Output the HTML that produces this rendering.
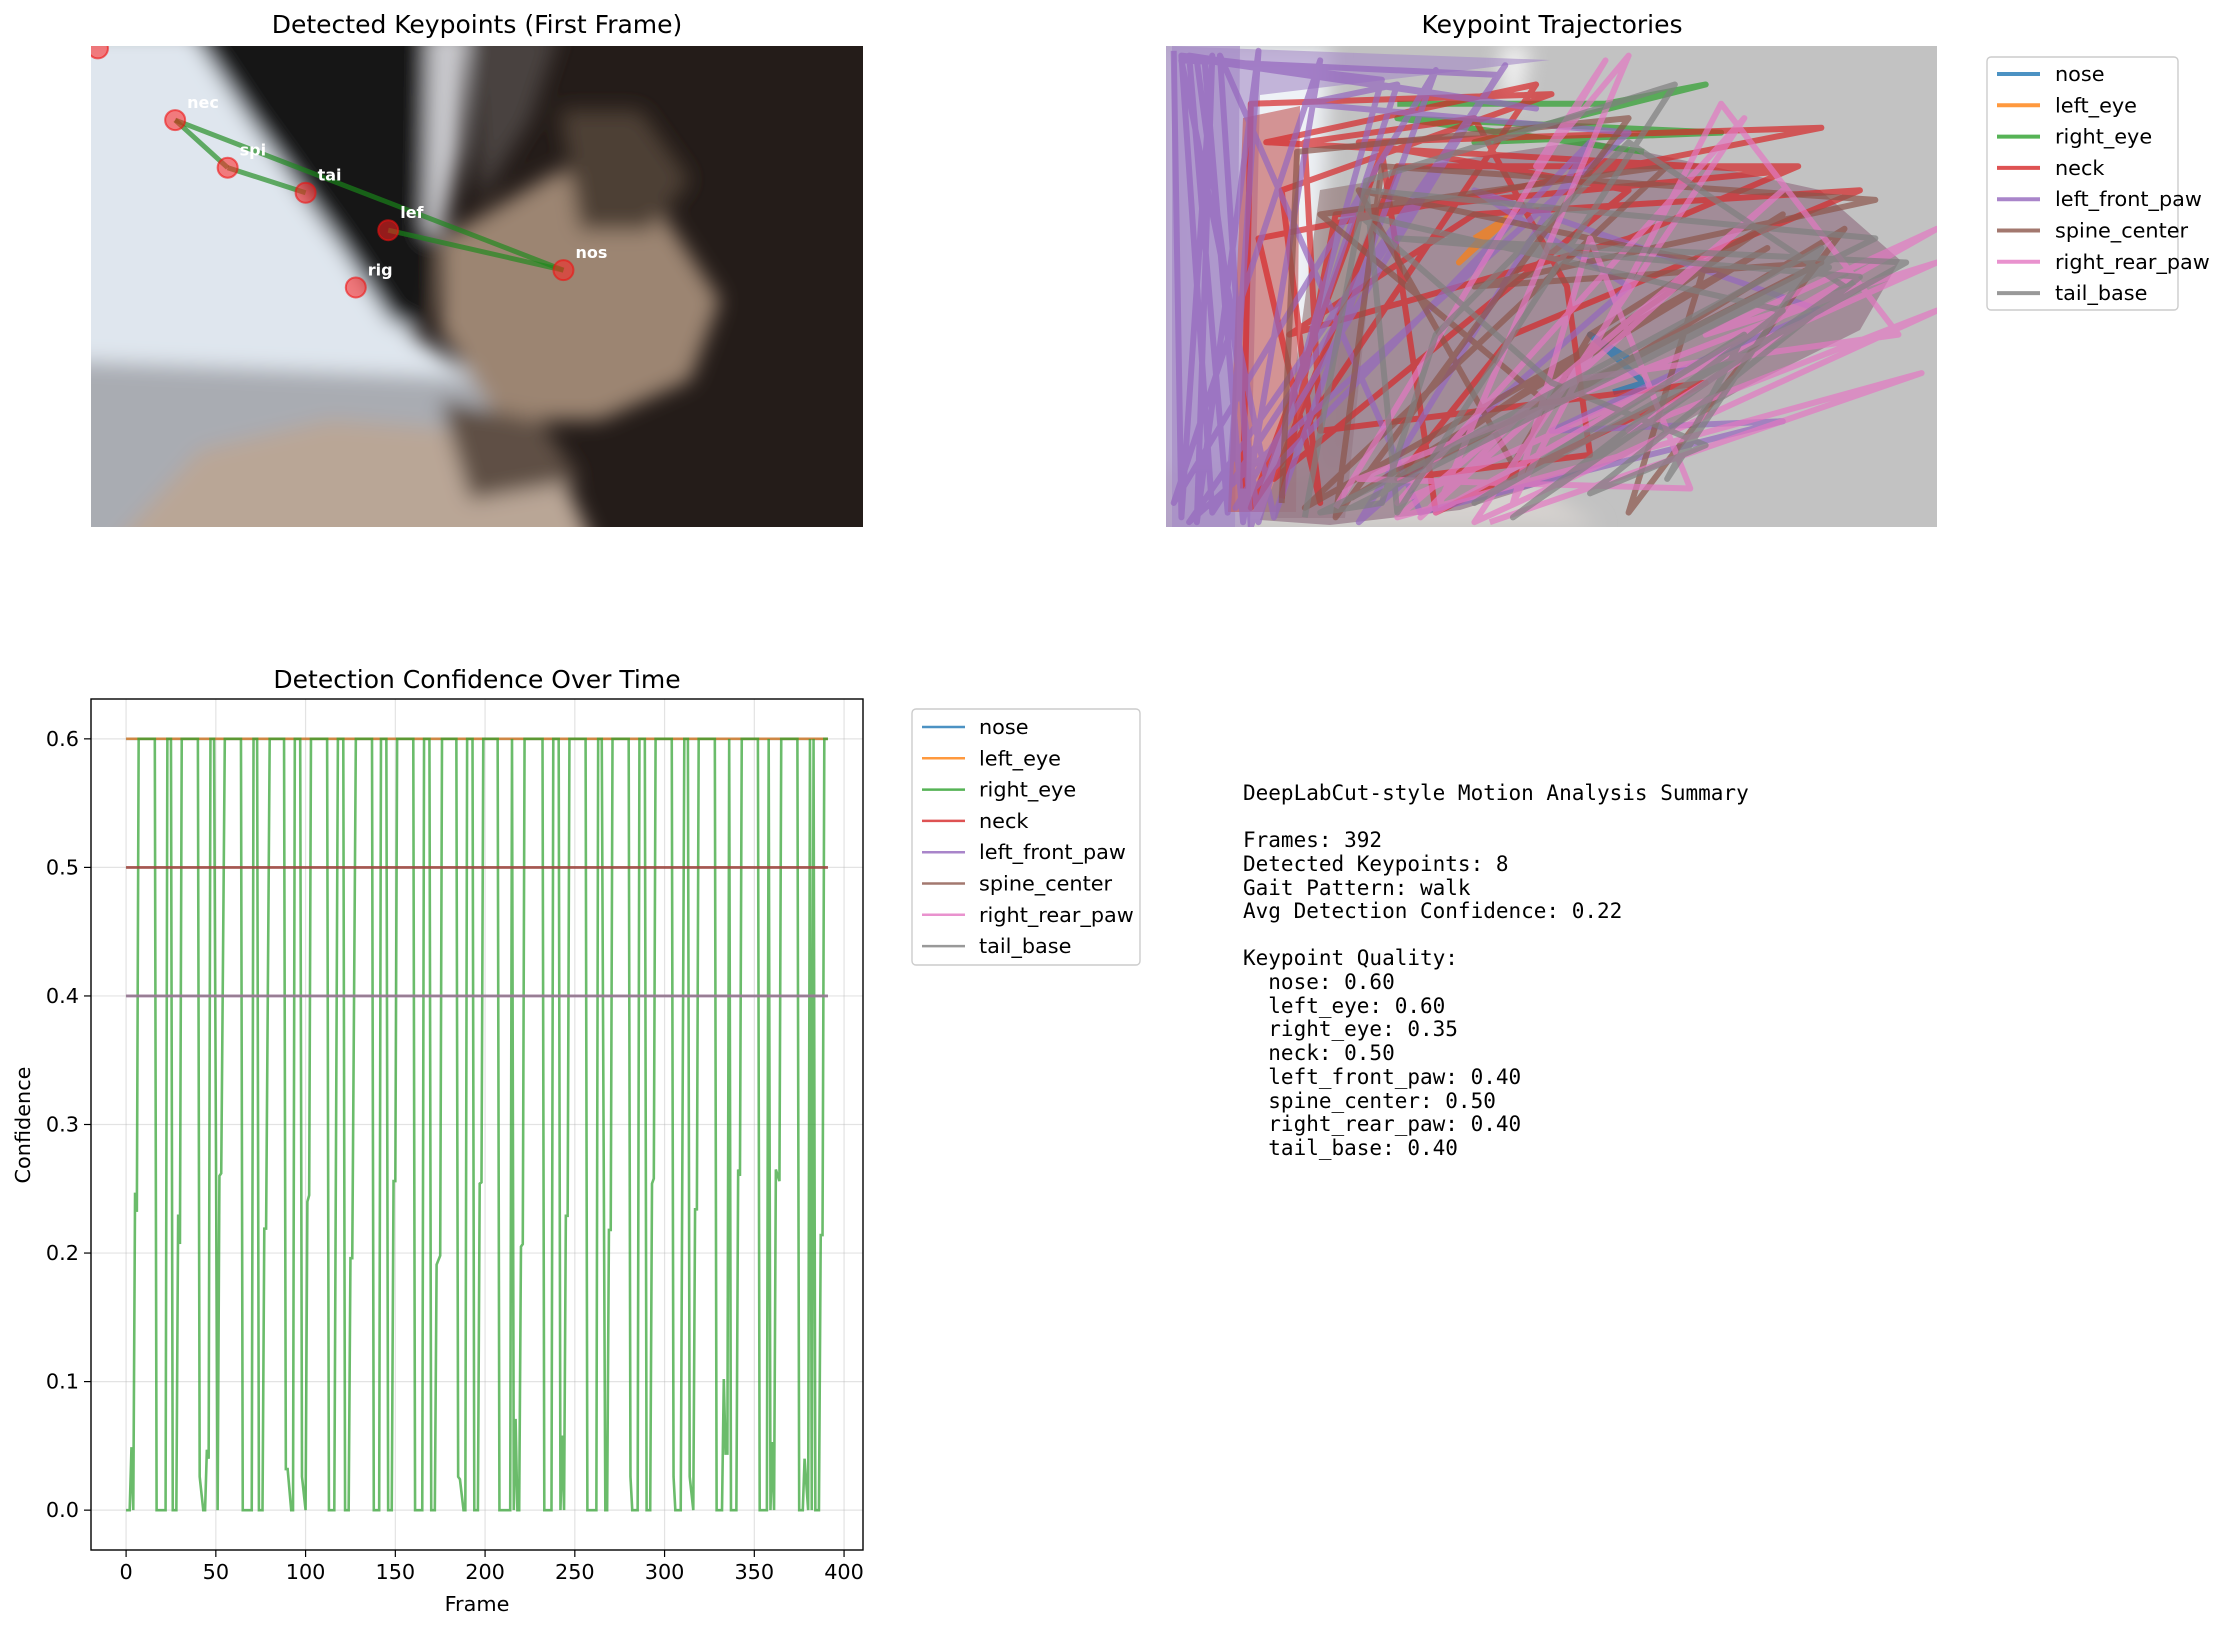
<!DOCTYPE html>
<html><head><meta charset="utf-8"><style>
body{margin:0;background:#fff}
svg{display:block;font-family:"DejaVu Sans","Liberation Sans",sans-serif}
.mono{font-family:"DejaVu Sans Mono","Liberation Mono",monospace}
</style></head><body>
<svg id="fig" width="2232" height="1629" viewBox="0 0 2232 1629" xmlns="http://www.w3.org/2000/svg">
<defs>
<filter id="blur8"><feGaussianBlur stdDeviation="10"/></filter>
<clipPath id="clipA"><rect x="91" y="46" width="772" height="481"/></clipPath>
<clipPath id="clipB"><rect x="1166" y="46" width="771" height="481"/></clipPath>
<clipPath id="clipC"><rect x="91" y="699" width="772" height="851"/></clipPath>
</defs>

<g>
<text x="477" y="33" font-size="25" text-anchor="middle">Detected Keypoints (First Frame)</text>
<g clip-path="url(#clipA)">
<rect x="91" y="46" width="772" height="481" fill="#241c19"/>
<g filter="url(#blur8)">
<polygon points="60,30 190,30 300,190 380,300 420,340 480,380 480,430 60,430" fill="#dfe6ee"/>
<polygon points="60,360 520,380 520,560 60,560" fill="#a9acb2"/>
<polygon points="190,30 430,30 440,200 430,300 415,330 390,320 330,230 250,120" fill="#131219"/>
<polygon points="428,30 470,30 460,150 440,240 425,230" fill="#c9c9cd"/>
<polygon points="470,30 560,30 530,120 480,200" fill="#4a423f"/>
<polygon points="440,240 560,170 660,210 720,300 690,380 600,420 500,420 440,330" fill="#9c8572"/>
<polygon points="560,110 640,110 690,180 650,230 580,230" fill="#4d3f36"/>
<polygon points="100,560 200,450 330,420 460,430 560,470 600,560" fill="#b9a696"/>
<polygon points="440,400 540,420 580,480 470,500" fill="#5e5045"/>
</g>
</g>
<g id="skeleton" clip-path="url(#clipA)"></g>
</g>

<g>
<text x="1552" y="33" font-size="25" text-anchor="middle">Keypoint Trajectories</text>
<g clip-path="url(#clipB)">
<rect x="1166" y="46" width="771" height="481" fill="#c2c2c2"/>
<g filter="url(#blur8)">
<polygon points="1166,46 1330,46 1310,527 1166,527" fill="#eef2f6"/>
<polygon points="1500,46 1530,46 1520,100 1505,100" fill="#f4f4f4"/>
<polygon points="1166,470 1500,460 1600,527 1166,527" fill="#d6d2cf"/>
</g>
<polygon points="1166,46 1550,60 1260,95 1250,527 1166,527" fill="#a58bc6" opacity="0.6"/>
<polygon points="1172,46 1240,46 1235,527 1172,527" fill="#a58bc6" opacity="0.7"/>
<polygon points="1228,512 1243,118 1300,106 1296,512" fill="#c25353" opacity="0.6"/>
<polygon points="1275,518 1320,190 1380,180 1345,518" fill="#8a6a6a" opacity="0.55"/>
<polygon points="1260,520 1390,170 1590,140 1820,190 1900,260 1860,330 1740,390 1620,460 1460,510 1330,525" fill="#977a8a" opacity="0.75"/>
<g id="traj"></g>
</g>
<g id="legendTop"></g>
</g>

<g>
<text x="477" y="688" font-size="25" text-anchor="middle">Detection Confidence Over Time</text>
<g id="gridC"></g>
<g id="linesC" clip-path="url(#clipC)"></g>
<rect x="91" y="699" width="772" height="851" fill="none" stroke="#000" stroke-width="1.4"/>
<g id="ticksC"></g>
<text x="477" y="1611" font-size="20.8" text-anchor="middle">Frame</text>
<text transform="translate(30,1125) rotate(-90)" font-size="20.8" text-anchor="middle">Confidence</text>
<g id="legendBot"></g>
</g>

<text class="mono" font-size="21" xml:space="preserve">
<tspan x="1243" y="800">DeepLabCut-style Motion Analysis Summary</tspan>
<tspan x="1243" y="847">Frames: 392</tspan>
<tspan x="1243" y="871">Detected Keypoints: 8</tspan>
<tspan x="1243" y="895">Gait Pattern: walk</tspan>
<tspan x="1243" y="918">Avg Detection Confidence: 0.22</tspan>
<tspan x="1243" y="965">Keypoint Quality:</tspan>
<tspan x="1243" y="989">  nose: 0.60</tspan>
<tspan x="1243" y="1013">  left_eye: 0.60</tspan>
<tspan x="1243" y="1036">  right_eye: 0.35</tspan>
<tspan x="1243" y="1060">  neck: 0.50</tspan>
<tspan x="1243" y="1084">  left_front_paw: 0.40</tspan>
<tspan x="1243" y="1108">  spine_center: 0.50</tspan>
<tspan x="1243" y="1131">  right_rear_paw: 0.40</tspan>
<tspan x="1243" y="1155">  tail_base: 0.40</tspan>
</text>
</svg>
<script>
const NS="http://www.w3.org/2000/svg";
const names=["nose","left_eye","right_eye","neck","left_front_paw","spine_center","right_rear_paw","tail_base"];
const colors=["#1f77b4","#ff7f0e","#2ca02c","#d62728","#9467bd","#8c564b","#e377c2","#7f7f7f"];
const constConf=[0.6,0.6,null,0.5,0.4,0.5,0.4,0.4];
const greenFrames=[0,2,3,4,5,6,7,16,17,22,23,25,26,28,29,30,31,40,41,43,44,45,46,47,49,51,52,53,55,64,65,70,71,73,74,76,77,78,80,88,89,90,92,93,94,97,98,100,101,102,103,112,113,116,118,121,122,124,125,126,128,137,138,141,142,145,146,148,149,150,151,160,161,165,166,169,170,172,173,175,176,184,185,186,188,189,190,193,194,196,197,198,199,207,208,214,215,216,217,218,219,220,221,222,232,233,237,238,241,242,243,244,245,246,247,256,257,262,263,265,267,268,269,270,271,280,281,282,285,286,289,290,292,293,294,295,304,305,306,309,311,313,314,316,317,318,319,328,329,332,333,334,335,336,337,340,341,342,343,352,353,357,358,359,360,361,362,364,365,374,375,377,378,380,381,382,383,384,386,387,388,389,391];
const greenValues=[0,0,0.049,0,0.247,0.232,0.6,0.6,0,0,0.6,0.6,0,0,0.230,0.207,0.6,0.6,0.026,0,0,0.047,0.040,0.6,0.6,0,0.26,0.262,0.6,0.6,0,0,0.6,0.6,0,0,0.219,0.219,0.6,0.6,0.032,0.032,0,0,0.6,0.6,0.026,0,0.240,0.245,0.6,0.6,0,0,0.6,0.6,0,0,0.196,0.196,0.6,0.6,0,0,0.6,0.6,0,0,0.256,0.256,0.6,0.6,0,0,0.6,0.6,0,0,0.191,0.198,0.6,0.6,0.026,0.024,0,0,0.6,0.6,0,0,0.254,0.255,0.6,0.6,0,0,0.6,0,0.071,0,0,0.205,0.207,0.6,0.6,0,0,0.6,0.6,0,0.058,0,0.229,0.229,0.6,0.6,0,0,0.6,0.6,0,0,0.218,0.218,0.6,0.6,0.026,0,0,0.6,0.6,0,0,0.254,0.258,0.6,0.6,0.026,0,0,0.6,0.6,0.026,0,0.234,0.234,0.6,0.6,0,0,0.102,0.044,0.044,0.6,0,0,0.265,0.26,0.6,0.6,0,0,0.6,0,0.053,0,0.265,0.256,0.6,0.6,0,0,0.040,0,0.6,0,0.6,0,0,0.214,0.214,0.6,0.6];
const nFrames=392;
const yTicks=[0.0,0.1,0.2,0.3,0.4,0.5,0.6];
const xTicks=[0,50,100,150,200,250,300,350,400];
const kpLabels=["nec","spi","tai","lef","nos","rig","x"];
const kpU=[10.9,17.7,27.8,38.5,61.2,34.3,0.9];
const kpV=[15.4,25.3,30.5,38.3,46.6,50.2,0.5];
const skelFrom=[0,1,0,3];
const skelTo=[1,2,4,4];
const trajPurpleU=[1,2,6,4,12,8,3,48,5,10,20,1,35,14,2,43,9,55,25,60,40,85,70,50,80,33,7,11,30,18,60,3,44,6,2,28,12,4];
const trajPurpleV=[1,98,2,99,1,97,2,13,3,99,3,95,5,98,3,6,96,20,99,50,30,55,65,80,78,97,2,100,8,12,18,99,4,97,2,7,99,3];
const trajRedU=[10,11,50,15,20,12,85,25,60,14,30,82,60,16,40,90,45,30,55,52,40,18,20,70,35,28,11,48,13,80,22,15];
const trajRedV=[92,12,10,30,95,40,17,20,30,90,25,25,40,60,35,30,60,90,85,50,15,20,80,70,97,22,96,8,20,26,35,94];
const trajBrownU=[15,17,60,22,28,92,40,85,30,80,55,45,25,70,60,88,50,20,65,18,78,24];
const trajBrownV=[95,22,15,98,25,32,50,45,90,35,60,87,30,45,97,38,75,35,25,96,42,94];
const trajGrayU=[18,26,66,30,26,92,35,85,65,75,40,96,30,90,55,70,50,25,80,45,88,60,35,28,20,86,24];
const trajGrayV=[98,28,8,97,30,40,85,42,90,60,95,45,40,48,93,83,70,35,55,98,50,20,60,95,97,46,96];
const trajPinkU=[22,57,48,60,35,100,70,100,30,75,40,100,60,90,25,68,55,45,72,95,50,33,80,30,98,42];
const trajPinkV=[96,3,25,2,97,38,60,45,95,15,99,55,80,50,90,92,40,95,12,60,70,98,30,98,68,99];
const trajGreenU=[30,57,70,40,72,30,62];
const trajGreenV=[12,12,8,20,18,15,22];
const trajOrangeU=[40,45,38,42];
const trajOrangeV=[40,35,45,38];
const trajBlueU=[60,55,62,58];
const trajBlueV=[65,60,70,72];

function mk(tag,attrs,parent){const e=document.createElementNS(NS,tag);for(const k in attrs)e.setAttribute(k,attrs[k]);parent.appendChild(e);return e;}

const A={x:91,y:46,w:772,h:481};
const ax=u=>A.x+u/100*A.w, ay=v=>A.y+v/100*A.h;
const sk=document.getElementById('skeleton');
for(let i=0;i<skelFrom.length;i++){
  const l=mk('line',{x1:ax(kpU[skelFrom[i]]),y1:ay(kpV[skelFrom[i]]),x2:ax(kpU[skelTo[i]]),y2:ay(kpV[skelTo[i]]),stroke:'#1a8a1a','stroke-width':5,opacity:0.65},sk);
  
  
}
for(let i=0;i<kpU.length;i++){
  const c=mk('circle',{cx:ax(kpU[i]),cy:ay(kpV[i]),r:10,fill:'#ff2020','fill-opacity':0.55,stroke:'#ee1111','stroke-width':2,'stroke-opacity':0.6},sk);
  
  
  if(kpLabels[i]!=="x"){
    const t=mk('text',{x:ax(kpU[i])+12,y:ay(kpV[i])-12,'font-size':16,'font-weight':'bold',fill:'#fff'},sk);
    t.textContent=kpLabels[i];
    
    
  }
}

const B={x:1166,y:46,w:771,h:481};
const bx=u=>B.x+u/100*B.w, by=v=>B.y+v/100*B.h;
const tr=document.getElementById('traj');
const trajSets=[[trajBlueU,trajBlueV,0],[trajOrangeU,trajOrangeV,1],[trajGreenU,trajGreenV,2],[trajRedU,trajRedV,3],[trajPurpleU,trajPurpleV,4],[trajBrownU,trajBrownV,5],[trajPinkU,trajPinkV,6],[trajGrayU,trajGrayV,7]];
trajSets.forEach(s=>{
  const pts=s[0].map((u,i)=>bx(u)+','+by(s[1][i])).join(' ');
  const p=mk('polyline',{points:pts,fill:'none',stroke:colors[s[2]],'stroke-width':6,'stroke-opacity':0.7,'stroke-linejoin':'round'},tr);
  
  
});
function legend(gid,x0,y0,w,h,lx,tx,ty0,lw){
  const g=document.getElementById(gid);
  const r=mk('rect',{x:x0,y:y0,width:w,height:h,rx:4,fill:'#fff','fill-opacity':0.8,stroke:'#cccccc','stroke-width':1.4},g);
  
  
  names.forEach((n,i)=>{
    const y=ty0+i*31.3;
    const l=mk('line',{x1:lx,y1:y,x2:lx+43,y2:y,stroke:colors[i],'stroke-width':lw,'stroke-opacity':0.8},g);
    
    
    const t=mk('text',{x:tx,y:y+7,'font-size':20.8},g);
    t.textContent=n;
    
    
  });
}
legend('legendTop',1987,57,191,253,1997,2055,74,4);
legend('legendBot',912,709,228,256,922,979,727,2.5);

const C={x:91,y:699,w:772,h:851};
const xmin=-19.55,xmax=410.55,ymin=-0.031,ymax=0.631;
const cx=f=>C.x+(f-xmin)/(xmax-xmin)*C.w;
const cy=v=>C.y+(ymax-v)/(ymax-ymin)*C.h;
const grid=document.getElementById('gridC'), ticks=document.getElementById('ticksC');
yTicks.forEach(v=>{
  const gl=mk('line',{x1:C.x,x2:C.x+C.w,y1:cy(v),y2:cy(v),stroke:'#b0b0b0','stroke-opacity':0.35,'stroke-width':1.2},grid);
  
  
  mk('line',{x1:C.x-7,x2:C.x,y1:cy(v),y2:cy(v),stroke:'#000','stroke-width':1.2},ticks);
  const t=mk('text',{x:C.x-12,y:cy(v)+7,'font-size':20.8,'text-anchor':'end'},ticks);
  t.textContent=v.toFixed(1);
  
  
});
xTicks.forEach(f=>{
  const gl=mk('line',{x1:cx(f),x2:cx(f),y1:C.y,y2:C.y+C.h,stroke:'#b0b0b0','stroke-opacity':0.35,'stroke-width':1.2},grid);
  
  
  mk('line',{x1:cx(f),x2:cx(f),y1:C.y+C.h,y2:C.y+C.h+7,stroke:'#000','stroke-width':1.2},ticks);
  const t=mk('text',{x:cx(f),y:C.y+C.h+29,'font-size':20.8,'text-anchor':'middle'},ticks);
  t.textContent=f;
  
  
});
const lc=document.getElementById('linesC');
names.forEach((n,i)=>{
  let pts;
  if(constConf[i]===null){
    pts=greenFrames.map((f,k)=>cx(f)+','+cy(greenValues[k])).join(' ');
  } else {
    pts=cx(0)+','+cy(constConf[i])+' '+cx(nFrames-1)+','+cy(constConf[i]);
  }
  const p=mk('polyline',{points:pts,fill:'none',stroke:colors[i],'stroke-width':2.6,'stroke-opacity':0.7},lc);
  
  
});
</script>
</body></html>
